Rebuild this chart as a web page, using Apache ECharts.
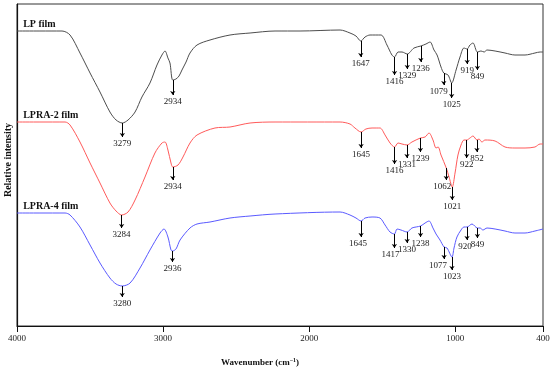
<!DOCTYPE html>
<html>
<head>
<meta charset="utf-8">
<script src="https://cdn.jsdelivr.net/npm/echarts@6/dist/echarts.min.js"></script>
<style>html,body{margin:0;padding:0;background:#fff;}#c{width:550px;height:370px;}</style>
</head>
<body>
<div id="c"></div>
<script>
// ---- data (wavenumber, relative intensity in arbitrary units) ----
const xTicks = [4000, 3000, 2000, 1000, 400];
const seriesNames = ['LP film', 'LPRA-2 film', 'LPRA-4 film'];

const lpWn = [4000,3843,3692,3637,3569,3500,3432,3364,3322,3279,3240,3192,3145,3090,3042,3008,2987,2967,2953,2934,2912,2891,2871,2843,2816,2768,2679,2542,2405,2234,2063,1789,1721,1680,1647,1618,1584,1509,1468,1434,1416,1392,1365,1329,1283,1236,1201,1173,1146,1125,1098,1079,1050,1025,995,968,941,919,900,879,849,824,803,783,728,660,592,523,455,420,400];
const lpVal = [295,295,295,291,273,253,234,214,206,203,206,214,229,243,261,271,275,268,263,246,247,250,256,264,273,281,286,291,293,295,295,296,293,290,285,289,291,291,281,271,269,274,274,272,278,280,282,284,276,271,259,253,251,243,256,269,278,277,281,283,274,275,274,276,275,273,271,271,273,274,274];

const ra2Wn = [4000,3843,3671,3637,3569,3500,3432,3364,3322,3284,3240,3192,3124,3056,3008,2987,2967,2946,2934,2898,2864,2816,2768,2645,2542,2405,2234,1789,1721,1687,1645,1612,1570,1516,1481,1447,1416,1392,1365,1331,1297,1239,1207,1180,1153,1132,1118,1098,1062,1043,1021,1002,982,961,941,922,900,879,852,838,818,797,728,660,592,523,455,420,400];
const ra2Val = [204,204,204,201,184,163,143,123,115,111,114,126,149,173,183,184,176,163,159,161,169,183,191,198,199,203,204,204,202,198,194,197,198,198,191,183,179,183,182,181,184,188,189,193,186,178,179,171,158,149,139,153,171,181,186,186,188,190,186,187,184,186,185,179,178,178,179,182,182];

const ra4Wn = [4000,3843,3671,3637,3569,3500,3432,3364,3322,3280,3226,3158,3090,3021,2994,2967,2946,2936,2912,2884,2816,2768,2679,2542,2405,2234,1789,1721,1680,1645,1618,1570,1516,1481,1447,1417,1399,1372,1330,1297,1238,1207,1180,1153,1132,1105,1077,1057,1023,1009,989,961,941,920,886,849,831,811,783,728,660,592,523,455,400];
const ra4Val = [113,113,113,111,99,81,63,48,42,40,43,58,76,93,97,89,76,75,77,86,98,102,104,108,110,112,114,111,108,105,108,109,108,101,94,92,97,96,94,98,100,103,105,98,92,86,79,78,69,78,89,96,99,99,102,98,98,96,98,97,95,93,93,95,97];

// peak annotations: wavenumber, curve value at peak, arrow tip value
const lpPeakWn  = [3279, 2934, 1647, 1416, 1329, 1236, 1079, 1025, 919, 849];
const lpPeakTop = [203, 246, 285, 269, 272, 280, 253, 243, 277, 274];
const lpPeakEnd = [189, 231, 269, 251, 257, 264, 241, 228, 262, 256];

const ra2PeakWn  = [3284, 2934, 1645, 1416, 1331, 1239, 1062, 1021, 922, 852];
const ra2PeakTop = [111, 159, 194, 179, 181, 188, 158, 139, 186, 186];
const ra2PeakEnd = [98, 146, 178, 162, 168, 174, 146, 126, 168, 174];

const ra4PeakWn  = [3280, 2936, 1645, 1417, 1330, 1238, 1077, 1023, 920, 849];
const ra4PeakTop = [40, 75, 105, 92, 94, 100, 79, 69, 99, 98];
const ra4PeakEnd = [29, 64, 89, 78, 83, 89, 67, 56, 86, 88];

// ---- styling ----
const SERIF = '"Liberation Serif","Times New Roman",serif';
const colors = ['#4d4d4d', '#ff5a5a', '#5a5aff'];
const labelDx = { 'LP film|1079': -5, 'LPRA-2 film|1062': -4, 'LPRA-4 film|1077': -6, 'LPRA-4 film|1417': -4, 'LPRA-4 film|1645': -3, 'LPRA-4 film|920': -2 };

function zip(a, b) { return a.map((v, i) => [v, b[i]]); }

function makeSeries(name, wn, val, pWn, pTop, pEnd, color, nameVal) {
  return {
    name: name,
    type: 'line',
    data: zip(wn, val),
    showSymbol: false,
    smooth: 0.3,
    lineStyle: { color: color, width: 1 },
    itemStyle: { color: color },
    animation: false,
    markLine: {
      silent: true,
      animation: false,
      symbol: ['none', 'arrow'],
      symbolSize: 4,
      lineStyle: { color: '#000', width: 1, type: 'solid' },
      label: {
        show: true, position: 'end', distance: 2,
        color: '#222', fontSize: 9, fontFamily: SERIF
      },
      data: pWn.map((w, i) => [
        { coord: [w, pTop[i]] },
        { coord: [w, pEnd[i]], label: { formatter: String(w), offset: [labelDx[name + '|' + w] || 0, 0] } }
      ])
    },
    markPoint: {
      silent: true,
      animation: false,
      symbol: 'circle',
      symbolSize: 1,
      itemStyle: { color: 'rgba(0,0,0,0)' },
      label: {
        show: true, position: 'top', align: 'left', distance: 1,
        formatter: name, color: '#111', fontWeight: 'bold', fontSize: 10, fontFamily: SERIF
      },
      data: [{ coord: [3958, nameVal] }]
    }
  };
}

const chart = echarts.init(document.getElementById('c'), null, { renderer: 'canvas' });
chart.setOption({
  backgroundColor: '#fff',
  animation: false,
  grid: { left: 17, right: 7, top: 4, bottom: 44, show: true, borderColor: '#333', borderWidth: 1, outerBoundsMode: 'none', containLabel: false },
  xAxis: {
    type: 'value', inverse: true, min: 400, max: 4000,
    name: '{b|Wavenumber (cm}{s|\u22121}{b|)}',
    nameLocation: 'middle', nameGap: 31,
    nameTextStyle: {
      padding: [0, 40, 0, 0],
      rich: {
        b: { fontFamily: SERIF, fontWeight: 'bold', fontSize: 9, color: '#111' },
        s: { fontFamily: SERIF, fontWeight: 'bold', fontSize: 6, color: '#111', verticalAlign: 'top', padding: [0, 0, 5, 0] }
      }
    },
    axisLine: { show: true, lineStyle: { color: '#111', width: 1.2 } },
    axisTick: { show: true, inside: false, length: 6, customValues: xTicks, lineStyle: { color: '#111' } },
    axisLabel: { customValues: xTicks, formatter: v => String(v), margin: 8, fontFamily: SERIF, fontSize: 9, color: '#222' },
    splitLine: { show: false }
  },
  yAxis: {
    type: 'value', min: 0, max: 322,
    name: 'Relative intensity', nameLocation: 'middle', nameGap: 4,
    nameTextStyle: { fontFamily: SERIF, fontWeight: 'bold', fontSize: 10, color: '#111', padding: [0, 0, 0, 10] },
    axisLine: { show: true, lineStyle: { color: '#111', width: 1.2 } },
    axisTick: { show: false }, axisLabel: { show: false }, splitLine: { show: false }
  },
  series: [
    makeSeries(seriesNames[0], lpWn, lpVal, lpPeakWn, lpPeakTop, lpPeakEnd, colors[0], lpVal[0]),
    makeSeries(seriesNames[1], ra2Wn, ra2Val, ra2PeakWn, ra2PeakTop, ra2PeakEnd, colors[1], ra2Val[0]),
    makeSeries(seriesNames[2], ra4Wn, ra4Val, ra4PeakWn, ra4PeakTop, ra4PeakEnd, colors[2], ra4Val[0])
  ]
});
</script>
</body>
</html>
